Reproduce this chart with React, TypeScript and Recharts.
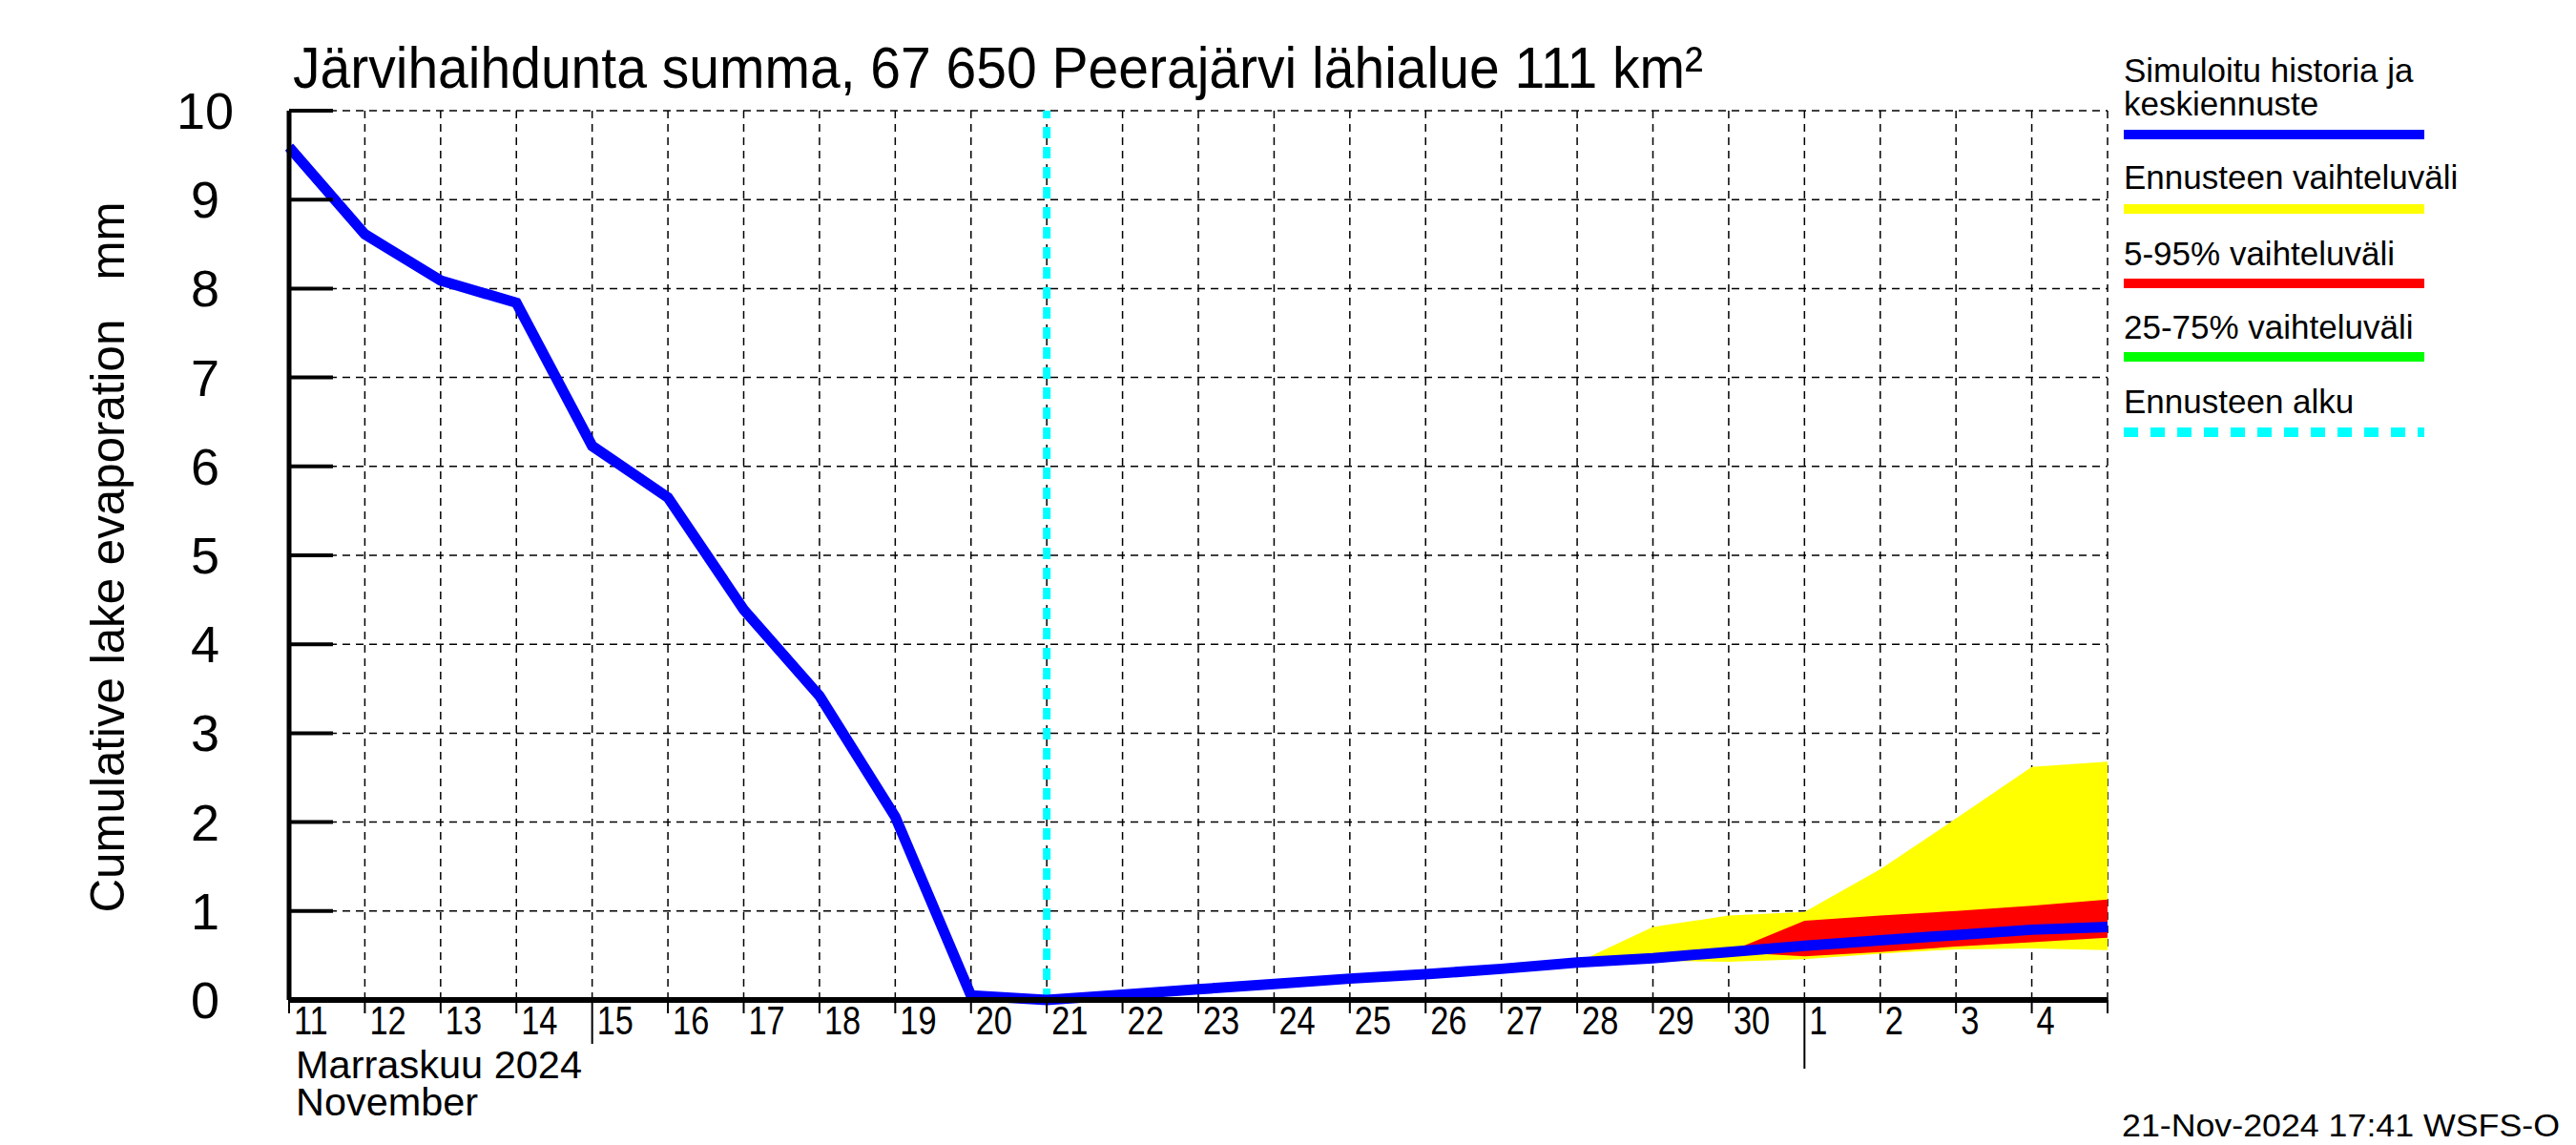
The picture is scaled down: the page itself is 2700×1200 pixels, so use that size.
import React from 'react';
import { ComposedChart, Line, Area, XAxis, YAxis, CartesianGrid, ReferenceLine } from 'recharts';

// x = days since 11 Nov 2024 00:00
const dayNumbers = [0, 1, 2, 3, 4, 5, 6, 7, 8, 9, 10, 11, 12, 13, 14, 15, 16, 17, 18, 19, 20, 21, 22, 23, 24];
const dayLabels = ['11', '12', '13', '14', '15', '16', '17', '18', '19', '20', '21', '22', '23', '24', '25', '26', '27', '28', '29', '30', '1', '2', '3', '4'];
const yTicks = [0, 1, 2, 3, 4, 5, 6, 7, 8, 9, 10];

// simulated history, 11.11. - 21.11.
const historyValues = [9.59, 8.61, 8.09, 7.84, 6.23, 5.65, 4.39, 3.42, 2.06, 0.05, 0.0];
// mean forecast, 22.11. - 5.12.
const forecastMean = [0.06, 0.12, 0.18, 0.24, 0.29, 0.35, 0.42, 0.47, 0.54, 0.61, 0.67, 0.73, 0.79, 0.82];

// forecast range (yellow), from 28.11.
const yellowStart = 17;
const yellowLow = [0.42, 0.44, 0.43, 0.46, 0.52, 0.57, 0.58, 0.56];
const yellowHigh = [0.42, 0.82, 0.95, 0.99, 1.47, 2.04, 2.62, 2.68];

// 5-95 % (red) and 25-75 % (green), from 30.11.
const bandStart = 19;
const redLow = [0.54, 0.49, 0.54, 0.6, 0.65, 0.7];
const redHigh = [0.54, 0.89, 0.95, 1.0, 1.06, 1.13];
const greenLow = [0.54, 0.58, 0.64, 0.7, 0.76, 0.79];
const greenHigh = [0.54, 0.64, 0.7, 0.76, 0.82, 0.85];

const forecastStart = 10;

const allMean = [...historyValues, ...forecastMean];

const tableData = dayNumbers.map((d, i) => {
  const yi = d - yellowStart;
  const bi = d - bandStart;
  return {
    d,
    mean: allMean[i],
    yellow: yi >= 0 ? [yellowLow[yi], yellowHigh[yi]] : null,
    red: bi >= 0 ? [redLow[bi], redHigh[bi]] : null,
    green: bi >= 0 ? [greenLow[bi], greenHigh[bi]] : null,
  };
});

const FONT = '"Liberation Sans", Arial, Helvetica, sans-serif';
const W = 2700;
const H = 1200;
const M = { top: 116, right: 491, bottom: 0, left: 0 };

const XTick = (props: any) => {
  const { x, y, payload } = props;
  const v = payload.value;
  const len = v === 4 ? 46 : v === 20 ? 72 : 14;
  return (
    <g>
      <line x1={x} x2={x} y1={y} y2={y + len} stroke="#000" strokeWidth={2} />
      {v < 24 && (
        <text
          transform={`translate(${x + 5},${y + 36}) scale(0.8,1)`}
          fontSize={43}
          fontFamily={FONT}
          fill="#000"
        >
          {dayLabels[v]}
        </text>
      )}
    </g>
  );
};

const YTick = (props: any) => {
  const { x, y, payload } = props;
  return (
    <g>
      <line x1={x} x2={x + 46} y1={y} y2={y} stroke="#000" strokeWidth={4} />
      <text
        x={215}
        y={y + 19}
        textAnchor="middle"
        fontSize={54}
        fontFamily={FONT}
        fill="#000"
      >
        {payload.value}
      </text>
    </g>
  );
};

const legendRows = [
  { lines: ['Simuloitu historia ja', 'keskiennuste'], y: 86, lineY: 141, color: '#0000ff', dash: undefined },
  { lines: ['Ennusteen vaihteluväli'], y: 198, lineY: 219, color: '#ffff00', dash: undefined },
  { lines: ['5-95% vaihteluväli'], y: 278, lineY: 297, color: '#ff0000', dash: undefined },
  { lines: ['25-75% vaihteluväli'], y: 355, lineY: 374, color: '#00ff00', dash: undefined },
  { lines: ['Ennusteen alku'], y: 433, lineY: 453, color: '#00ffff', dash: '15 13' },
];

export default function App() {
  return (
    <div style={{ position: 'relative', width: W, height: H, background: '#fff' }}>
      <style>{'body{margin:0;background:#fff}'}</style>
      <ComposedChart width={W} height={H} data={tableData} margin={M}>
        <Area
          type="linear"
          dataKey="yellow"
          stroke="none"
          fill="#ffff00"
          fillOpacity={1}
          isAnimationActive={false}
        />
        <Area
          type="linear"
          dataKey="red"
          stroke="none"
          fill="#ff0000"
          fillOpacity={1}
          isAnimationActive={false}
        />
        <Area
          type="linear"
          dataKey="green"
          stroke="none"
          fill="#00ff00"
          fillOpacity={1}
          isAnimationActive={false}
        />
        <CartesianGrid stroke="#000" strokeWidth={1.5} strokeDasharray="8 6" />
        <XAxis
          dataKey="d"
          type="number"
          domain={[0, 24]}
          ticks={dayNumbers}
          interval={0}
          height={152}
          tickSize={0}
          tickMargin={0}
          tickLine={false}
          tick={<XTick />}
          axisLine={{ stroke: '#000', strokeWidth: 6 }}
        />
        <YAxis
          type="number"
          domain={[0, 10]}
          ticks={yTicks}
          interval={0}
          width={303}
          tickSize={0}
          tickMargin={0}
          tickLine={false}
          tick={<YTick />}
          axisLine={{ stroke: '#000', strokeWidth: 5 }}
        />
        <ReferenceLine
          x={forecastStart}
          stroke="#00ffff"
          strokeWidth={8}
          strokeDasharray="12 9"
        />
        <Line
          type="linear"
          dataKey="mean"
          stroke="#0000ff"
          strokeWidth={11}
          dot={false}
          activeDot={false}
          isAnimationActive={false}
        />
      </ComposedChart>
      <svg
        width={W}
        height={H}
        style={{ position: 'absolute', left: 0, top: 0, pointerEvents: 'none' }}
        fontFamily={FONT}
      >
        <text x={307} y={92} fontSize={62} textLength={1478} lengthAdjust="spacingAndGlyphs">
          Järvihaihdunta summa, 67 650 Peerajärvi lähialue 111 km²
        </text>
        <text
          transform="translate(130,584) rotate(-90)"
          textAnchor="middle"
          fontSize={50}
          textLength={745}
          lengthAdjust="spacingAndGlyphs"
          style={{ whiteSpace: 'pre' }}
        >
          {'Cumulative lake evaporation   mm'}
        </text>
        <text x={310} y={1130} fontSize={40} textLength={300} lengthAdjust="spacingAndGlyphs">
          Marraskuu 2024
        </text>
        <text x={310} y={1169} fontSize={40} textLength={191} lengthAdjust="spacingAndGlyphs">
          November
        </text>
        <text x={2683} y={1191} fontSize={34} textAnchor="end" textLength={459} lengthAdjust="spacingAndGlyphs">
          21-Nov-2024 17:41 WSFS-O
        </text>
        {legendRows.map((r) => (
          <g key={r.color}>
            {r.lines.map((t, i) => (
              <text key={t} x={2226} y={r.y + i * 35} fontSize={35}>
                {t}
              </text>
            ))}
            <line
              x1={2226}
              x2={2541}
              y1={r.lineY}
              y2={r.lineY}
              stroke={r.color}
              strokeWidth={10}
              strokeDasharray={r.dash}
            />
          </g>
        ))}
      </svg>
    </div>
  );
}
